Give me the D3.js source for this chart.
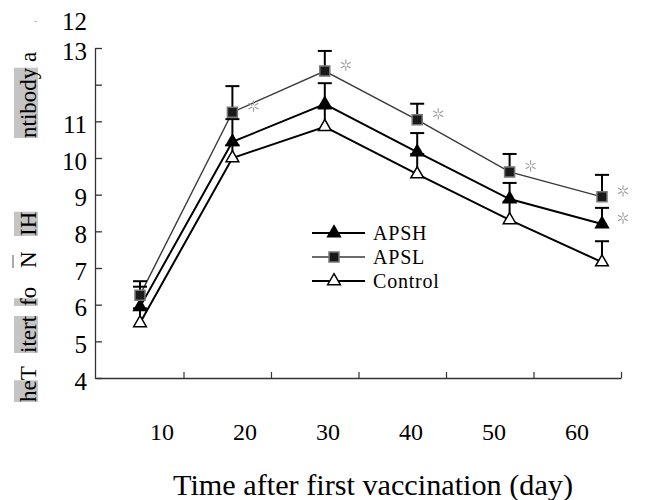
<!DOCTYPE html>
<html><head><meta charset="utf-8">
<script src="https://cdn.jsdelivr.net/npm/d3@7"></script>
<style>body{margin:0;background:#fff} svg{display:block}</style>
</head><body>
<svg id="chart" width="657" height="500"></svg>
<script>
// ---- data ----
const days = [10, 20, 30, 40, 50, 60];
const apsl = [6.26, 11.25, 12.37, 11.04, 9.62, 8.94];
const apslErr = [0.38, 0.71, 0.55, 0.44, 0.49, 0.60];
const apsh = [5.94, 10.44, 11.47, 10.16, 8.88, 8.20];
const apshErr = [0.55, 0.62, 0.57, 0.52, 0.44, 0.44];
const control = [5.50, 10.00, 10.85, 9.56, 8.31, 7.16];
const controlErr = [0.40, 0.35, 0.50, 0.55, 0.50, 0.57];
const apslSig = [false, true, true, true, true, true];
const apshSig = [false, false, false, false, false, true];
const controlSig = [false, false, false, false, false, false];
const yTicks = [4, 5, 6, 7, 8, 9, 10, 11, 12, 13];
const xTickLabels = ["10", "20", "30", "40", "50", "60"];
const seriesNames = ["APSH", "APSL", "Control"];
const xTitle = "Time after first vaccination (day)";
const yTitlePieces = ["heT", "itert", "fo", "N", "IH", "ntibody", "a"];

// ---- layout ----
const svg = d3.select("#chart");
const serif = "'Liberation Serif','Times New Roman',serif";
const y = d3.scaleLinear().domain([4, 13]).range([378, 48]);
const x = d3.scaleLinear().domain([10, 60]).range([140, 602]);
const xAxisScale = d3.scaleLinear().domain([0, 60]).range([96, 621]);
const xLabelScale = d3.scaleLinear().domain([10, 60]).range([162, 577]);

// y axis
const gy = svg.append("g").attr("transform", "translate(95,0)")
  .call(d3.axisLeft(y).tickValues(yTicks).tickSize(-7).tickSizeOuter(0).tickPadding(8)
    .tickFormat(d => d === 12 ? "" : d));
gy.select(".domain").attr("stroke", "#333").attr("stroke-width", 1.3);
gy.selectAll(".tick line").attr("stroke", "#333").attr("stroke-width", 1.3);
gy.selectAll(".tick text").attr("font-family", serif).attr("font-size", 25)
  .attr("fill", "#000").attr("dy", "0.45em");
// displaced "12" label above the axis
svg.append("text").attr("x", 87).attr("y", y(13.7)).attr("dy", "0.3em")
  .attr("text-anchor", "end").attr("font-family", serif).attr("font-size", 25).text("12");
svg.append("text").attr("x", 34).attr("y", 24).attr("font-size", 9).attr("fill", "#888")
  .attr("font-family", serif).text("-");

// x axis
const gx = svg.append("g").attr("transform", "translate(0,378)")
  .call(d3.axisBottom(xAxisScale).tickValues(days).tickSize(-6).tickSizeOuter(0).tickFormat(""));
gx.select(".domain").attr("stroke", "#333").attr("stroke-width", 1.3);
gx.selectAll(".tick line").attr("stroke", "#333").attr("stroke-width", 1.2);
svg.append("g").selectAll("text").data(days).join("text")
  .attr("x", d => xLabelScale(d)).attr("y", 440).attr("text-anchor", "middle")
  .attr("font-family", serif).attr("font-size", 24)
  .text((d, i) => xTickLabels[i]);

// x title
svg.append("text").attr("x", 373).attr("y", 495).attr("text-anchor", "middle")
  .attr("font-family", serif).attr("font-size", 29).attr("textLength", 400)
  .attr("lengthAdjust", "spacingAndGlyphs").text(xTitle);

// y title (scanned, fragmented)
const pieceBottoms = [402, 353, 306, 268, 236, 138, 62];
const pieceGray = [2, 5, 1, 0, 2, 7, 0];
yTitlePieces.forEach((t, i) => {
  const g = svg.append("g").attr("transform", `translate(36,${pieceBottoms[i]}) rotate(-90)`);
  const rect = g.append("rect").attr("fill", "#c4c4c4");
  const txt = g.append("text").attr("font-family", serif).attr("font-size", 23).text(t);
  if (pieceGray[i] > 0) {
    const w = txt.node().getSubStringLength(0, pieceGray[i]);
    rect.attr("x", 0).attr("y", -22).attr("width", w).attr("height", 24);
  } else rect.remove();
  if (t === "N") g.append("rect").attr("x", 0).attr("y", -24).attr("width", 13).attr("height", 2).attr("fill", "#aaa");
});

// series
const series = [
  {name: "APSL", vals: apsl, err: apslErr, sig: apslSig, stroke: "#3a3a3a", width: 1.4,
   sym: d3.symbolSquare, size: 100, fill: "#1a1a1a", mstroke: "#777"},
  {name: "APSH", vals: apsh, err: apshErr, sig: apshSig, stroke: "#000", width: 2,
   sym: d3.symbolTriangle, size: 70, fill: "#000", mstroke: "#000"},
  {name: "Control", vals: control, err: controlErr, sig: controlSig, stroke: "#000", width: 2,
   sym: d3.symbolTriangle, size: 70, fill: "#fff", mstroke: "#000"}
];
const line = d3.line().x((d, i) => x(days[i])).y(d => y(d));
series.forEach(s => {
  svg.append("path").datum(s.vals).attr("d", line).attr("fill", "none")
    .attr("stroke", s.stroke).attr("stroke-width", s.width);
});
series.forEach(s => {
  const g = svg.append("g");
  s.vals.forEach((v, i) => {
    const cx = x(days[i]), top = y(v + s.err[i]);
    g.append("line").attr("x1", cx).attr("x2", cx).attr("y1", y(v)).attr("y2", top)
      .attr("stroke", "#000").attr("stroke-width", 2);
    g.append("line").attr("x1", cx - 7).attr("x2", cx + 7).attr("y1", top).attr("y2", top)
      .attr("stroke", "#000").attr("stroke-width", 2);
  });
});
series.slice().reverse().forEach(s => {
  svg.append("g").selectAll("path").data(s.vals).join("path")
    .attr("transform", (d, i) => `translate(${x(days[i])},${y(d)})`)
    .attr("d", d3.symbol(s.sym, s.size))
    .attr("fill", s.fill).attr("stroke", s.mstroke).attr("stroke-width", 1.5);
  const sigPts = s.vals.map((v, i) => ({v, i})).filter(o => s.sig[o.i]);
  const ag = svg.append("g").selectAll("g").data(sigPts).join("g")
    .attr("transform", o => `translate(${x(days[o.i]) + 21},${y(o.v) - 6})`);
  ag.append("path").attr("d", d3.symbol(d3.symbolAsterisk, 90))
    .attr("fill", "none").attr("stroke", "#999").attr("stroke-width", 1.1);
  ag.append("path").attr("d", d3.symbol(d3.symbolCircle, 6)).attr("fill", "#fff");
});

// legend
const legendOrder = seriesNames.map(n => series.find(s => s.name === n));
const lg = svg.append("g");
legendOrder.forEach((s, i) => {
  const ly = 233 + i * 24;
  lg.append("line").attr("x1", 312).attr("x2", 365).attr("y1", ly).attr("y2", ly)
    .attr("stroke", s.stroke).attr("stroke-width", s.width);
  lg.append("path").attr("transform", `translate(334,${ly})`)
    .attr("d", d3.symbol(s.sym, s.size)).attr("fill", s.fill)
    .attr("stroke", s.mstroke).attr("stroke-width", 1.5);
  lg.append("text").attr("x", 373).attr("y", ly).attr("dy", "0.36em")
    .attr("font-family", serif).attr("font-size", 20).attr("letter-spacing", 0.8).text(s.name);
});
</script>
</body></html>
